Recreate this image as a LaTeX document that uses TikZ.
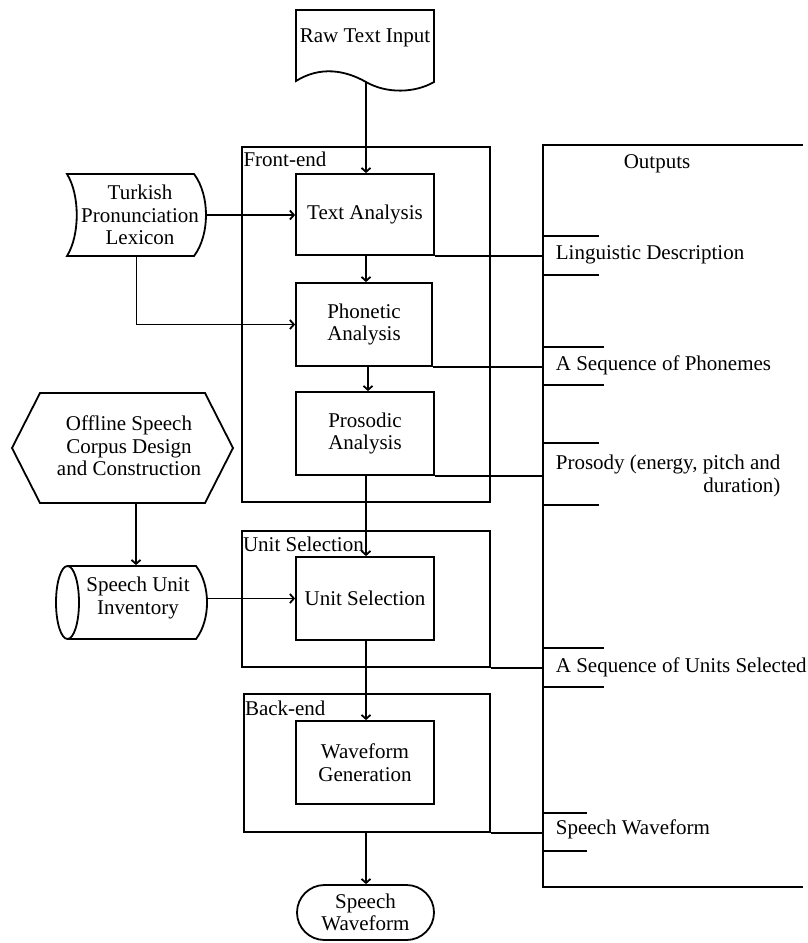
\documentclass[tikz,border=0pt]{standalone}
\usepackage{fontspec}
\setmainfont{Liberation Serif}
\usetikzlibrary{arrows.meta,shapes.misc}
\begin{document}
\begin{tikzpicture}[x=1pt,y=-1pt,
  line width=1.8pt,
  every node/.style={font=\fontsize{21}{22.5}\selectfont},
  box/.style={draw, rectangle, minimum width=138pt, minimum height=82pt, align=center, inner sep=2pt},
  group/.style={draw, rectangle, inner sep=0pt},
  ghost/.style={inner sep=0pt, align=center},
  grplabel/.style={anchor=base west, inner sep=0pt},
  arr/.style={-{Straight Barb[length=4pt,width=9pt]}},
  conn/.style={}]
\useasboundingbox (0,0) rectangle (808,943);

% Outputs frame (open on the right)
\node[ghost, minimum width=264pt, minimum height=740pt] (out) at (676,516) {};
\draw ([xshift=-6pt]out.north east) -- (out.north west) -- (out.south west) -- ([xshift=-6pt]out.south east);
\node (outlbl) at (657,164) {Outputs};

% Raw text input (document)
\draw (296,81) .. controls (320,66) and (345,70) .. (366,82)
      .. controls (387,94) and (415,93) .. (434,82) -- (434,10) -- (296,10) -- cycle;
\node[ghost] (raw) at (365,38) {Raw Text Input};
\coordinate (rawb) at (366,82);

% Groups
\node[group, minimum width=248pt, minimum height=355pt] (fe) at (366,324.5) {};
\node[grplabel] (felbl) at ([xshift=1.5pt,yshift=-20pt]fe.north west) {Front-end};
\node[group, minimum width=248pt, minimum height=136pt] (uso) at (366,599) {};
\node[grplabel] (uslbl) at ([xshift=1pt,yshift=-21pt]uso.north west) {Unit Selection};
\node[group, minimum width=246pt, minimum height=138pt] (be) at (367,763) {};
\node[grplabel] (belbl) at ([xshift=1pt,yshift=-22pt]be.north west) {Back-end};

% Process boxes
\node[box, minimum height=81pt] (ta) at (365,214.5) {Text Analysis};
\node[box, minimum width=136pt, minimum height=83pt] (pa) at (364,324.5) {Phonetic\\Analysis};
\node[box, minimum height=83pt] (pr) at (365,433.5) {Prosodic\\Analysis};
\node[box, minimum height=83pt] (usi) at (365,598.5) {Unit Selection};
\node[box, minimum height=83pt] (wg) at (365,762.5) {Waveform\\Generation};
\node[draw, rounded rectangle, minimum width=139pt, minimum height=55pt, inner sep=1pt, align=center] (sw) at (365.5,912.5) {Speech\\Waveform};

% Lexicon (stored data)
\draw (67,174) -- (194,174) .. controls (210,195) and (210,235) .. (194,256)
      -- (67,256) .. controls (80,235) and (80,195) .. (67,174) -- cycle;
\node[ghost, minimum width=139pt, minimum height=82pt] (lex) at (136.5,215) {};
\node[ghost] (lextxt) at (140,215) {Turkish\\Pronunciation\\Lexicon};

% Offline corpus (hexagon)
\draw (12,448) -- (40,393) -- (205,393) -- (233,448) -- (205,503) -- (40,503) -- cycle;
\node[ghost, minimum width=221pt, minimum height=110pt] (hex) at (122.5,448) {};
\node[ghost] (hextxt) at (129,446) {Offline Speech\\Corpus Design\\and Construction};

% Speech unit inventory (cylinder)
\draw (68,566) -- (196,566) .. controls (210.7,585) and (210.7,620) .. (196,639) -- (68,639);
\draw (67.5,602.5) ellipse [x radius=11.5, y radius=36.5];
\node[ghost, minimum width=140pt, minimum height=73pt] (cyl) at (136,602.5) {};
\node[ghost] (cyltxt) at (138,598) {Speech Unit\\Inventory};

% Arrows in main chain
\draw[arr] (rawb) -- (rawb |- ta.north);
\draw[arr] (ta.south -| rawb) -- (pa.north -| rawb);
\draw[arr] ([xshift=4pt]pa.south) -- ([xshift=3pt]pr.north);
\draw[arr] (pr.south -| rawb) -- (usi.north -| rawb);
\draw[arr] (usi.south -| rawb) -- (wg.north -| rawb);
\draw[arr] (be.south -| rawb) -- (sw.north -| rawb);

% Side inputs
\draw[arr] (lex.east) -- (lex.east -| ta.west);
\draw[arr] (lex.south) |- (pa.west);
\draw[arr] (cyl.north |- hex.south) -- (cyl.north);
\draw[arr] (cyl.east |- usi.west) -- (usi.west);

% Connectors to outputs
\draw[conn] (ta.south east) -- (ta.south east -| out.west);
\draw[conn] (pa.south east) -- (pa.south east -| out.west);
\draw[conn] (pr.south east) -- (pr.south east -| out.west);
\draw[conn] (uso.south east) -- (uso.south east -| out.west);
\draw[conn] (be.south east) -- (be.south east -| out.west);

% Output ticks
\draw (544,236) -- (599,236); \draw (544,275) -- (599,275);
\draw (544,347) -- (604,347); \draw (544,385) -- (604,385);
\draw (544,443) -- (599,443); \draw (544,505) -- (599,505);
\draw (544,648) -- (604,648); \draw (544,687) -- (604,687);
\draw (544,813) -- (587,813); \draw (544,851) -- (587,851);

% Output labels
\node[anchor=west, inner sep=0pt] (o1) at (555,255) {Linguistic Description};
\node[anchor=west, inner sep=0pt] (o2) at (555,365) {A Sequence of Phonemes};
\node[anchor=west, inner sep=0pt, align=right] (o3) at (555,476) {Prosody (energy, pitch and\\duration)};
\node[anchor=west, inner sep=0pt] (o4) at (555,667) {A Sequence of Units Selected};
\node[anchor=west, inner sep=0pt] (o5) at (555,829) {Speech Waveform};
\end{tikzpicture}
\end{document}
